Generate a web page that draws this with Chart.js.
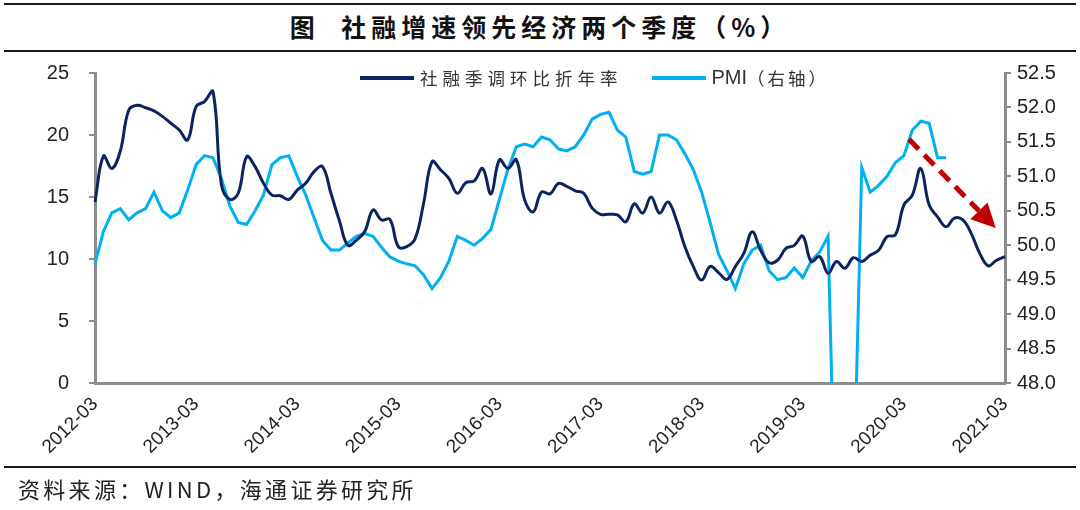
<!DOCTYPE html>
<html>
<head>
<meta charset="utf-8">
<script src="https://cdn.jsdelivr.net/npm/chart.js@4.4.1/dist/chart.umd.min.js"></script>
<style>
  body { margin: 0; background: #fff; }
  #wrap { position: relative; width: 1080px; height: 510px; overflow: hidden; font-family: "Liberation Sans", "Noto Sans CJK SC", sans-serif; }
  .rule { position: absolute; left: 4px; width: 1072px; height: 2px; background: #1a1a1a; }
  #title { position: absolute; top: 8px; left: 0; width: 1080px; text-align: center; font-family: "Noto Sans CJK SC", sans-serif; font-weight: bold; font-size: 25px; letter-spacing: 5px; color: #111; line-height: 36px; }
  #legend { position: absolute; top: 65px; left: 360px; display: flex; align-items: center; font-size: 17px; color: #333; }
  #legend .sample { width: 54px; height: 4px; margin-right: 6px; }
  #legend .lbl { font-family: "Noto Sans CJK SC", sans-serif; font-size: 17.5px; letter-spacing: 5px; margin-right: 29px; }
  #legend .pmi { font-family: "Liberation Sans", sans-serif; font-size: 20px; }
  #legend .axisnote { font-family: "Noto Sans CJK SC", sans-serif; font-size: 17.5px; letter-spacing: 3px; }
  #source { position: absolute; top: 472px; left: 18px; font-family: "Noto Sans CJK SC", sans-serif; font-size: 22px; letter-spacing: 3.3px; color: #222; }
  canvas { position: absolute; left: 0; top: 0; }
</style>
</head>
<body>
<div id="wrap">
  <div class="rule" style="top:3px"></div>
  <div id="title">图&nbsp;&nbsp;社融增速领先经济两个季度（%）</div>
  <div class="rule" style="top:50px"></div>
  <canvas id="chart" width="1080" height="510"></canvas>
  <div id="legend">
    <div class="sample" style="background:#0b2461"></div><span class="lbl">社融季调环比折年率</span>
    <div class="sample" style="background:#00b0f0"></div><span class="pmi">PMI</span><span class="axisnote">（右轴）</span>
  </div>
  <div class="rule" style="top:466px"></div>
  <div id="source">资料来源：WIND，海通证券研究所</div>
</div>
<script>
// ===== Data =====
const firstMonth = [2012, 3];
const monthCount = 109;
const yearTicks = ['2012-03', '2013-03', '2014-03', '2015-03', '2016-03',
                   '2017-03', '2018-03', '2019-03', '2020-03', '2021-03'];

// 社融季调环比折年率 (left axis, %)
const tsfGrowth = [
  14.6, 18.3, 17.3, 18.7, 22.0, 22.4, 22.2, 21.95, 21.5, 20.95, 20.4, 19.6,
  22.3, 22.7, 23.5, 16.0, 14.8, 15.3, 18.25, 17.45, 16.1, 15.15, 15.1, 14.8,
  15.55, 16.1, 17.05, 17.45, 15.3, 13.1, 11.1, 11.5, 12.2, 13.95, 13.15, 13.2,
  11.0, 11.0, 11.65, 14.5, 17.85, 17.2, 16.5, 15.3, 16.15, 16.3, 17.3, 15.25,
  18.0, 17.3, 18.0, 14.75, 13.8, 15.4, 15.25, 16.1, 15.85, 15.5, 15.3, 14.1,
  13.6, 13.6, 13.55, 13.0, 14.45, 13.7, 15.0, 13.7, 14.6, 13.15, 11.0, 9.4,
  8.3, 9.4, 8.9, 8.35, 9.4, 10.45, 12.2, 10.7, 9.7, 9.9, 10.85, 11.1,
  11.85, 9.8, 10.2, 8.85, 9.8, 9.25, 10.1, 9.8, 10.3, 10.7, 11.8, 11.95,
  14.35, 15.15, 17.3, 14.35, 13.4, 12.6, 13.3, 13.15, 12.05, 10.45, 9.45, 9.9,
  10.2
];

// PMI (right axis), ends before the last 7 months
const pmi = [
  49.73, 50.2, 50.47, 50.53, 50.37, 50.47, 50.53, 50.77, 50.5, 50.4, 50.47, 50.8,
  51.17, 51.3, 51.27, 50.97, 50.57, 50.33, 50.3, 50.5, 50.73, 51.17, 51.27, 51.3,
  51.0, 50.73, 50.4, 50.07, 49.93, 49.93, 50.03, 50.13, 50.17, 50.13, 49.97, 49.83,
  49.77, 49.73, 49.7, 49.57, 49.37, 49.53, 49.77, 50.13, 50.07, 50.0, 50.1, 50.23,
  50.67, 51.1, 51.43, 51.47, 51.43, 51.57, 51.53, 51.4, 51.37, 51.43, 51.6, 51.83,
  51.9, 51.93, 51.67, 51.57, 51.07, 51.03, 51.07, 51.6, 51.6, 51.53, 51.33, 51.1,
  50.77, 50.33, 49.87, 49.63, 49.37, 49.73, 49.93, 50.0, 49.63, 49.5, 49.53, 49.67,
  49.53, 49.77, 49.9, 50.13, 45.3, 45.9, 46.17, 51.13, 50.77, 50.87, 51.0, 51.2,
  51.3, 51.67, 51.8, 51.77, 51.27, 51.27
];

// red dashed trend arrow, in data units (month index, left-axis value)
const arrowFrom = [96.6, 19.65];
const arrowTo = [106.9, 12.5];

// ===== Chart =====
const colors = {
  navy: '#0b2461',
  sky: '#00b0f0',
  axis: '#8c8c8c',
  text: '#222222',
  arrow: '#c00000'
};

const months = [];
for (let i = 0; i < monthCount; i++) {
  const m = firstMonth[1] - 1 + i;
  const y = firstMonth[0] + Math.floor(m / 12);
  months.push(`${y}-${String(m % 12 + 1).padStart(2, '0')}`);
}

const arrowPlugin = {
  id: 'trendArrow',
  afterDatasetsDraw(chart) {
    const { ctx, scales } = chart;
    const x1 = scales.x.getPixelForValue(arrowFrom[0]);
    const y1 = scales.y.getPixelForValue(arrowFrom[1]);
    const x2 = scales.x.getPixelForValue(arrowTo[0]);
    const y2 = scales.y.getPixelForValue(arrowTo[1]);
    const ang = Math.atan2(y2 - y1, x2 - x1);
    const head = 24, half = 12;
    const bx = x2 - head * Math.cos(ang), by = y2 - head * Math.sin(ang);
    ctx.save();
    ctx.strokeStyle = colors.arrow;
    ctx.fillStyle = colors.arrow;
    ctx.lineWidth = 5;
    ctx.setLineDash([14, 8]);
    ctx.beginPath();
    ctx.moveTo(x1, y1);
    ctx.lineTo(bx, by);
    ctx.stroke();
    ctx.setLineDash([]);
    ctx.beginPath();
    ctx.moveTo(x2, y2);
    ctx.lineTo(bx + half * Math.sin(ang), by - half * Math.cos(ang));
    ctx.lineTo(bx - half * Math.sin(ang), by + half * Math.cos(ang));
    ctx.closePath();
    ctx.fill();
    ctx.restore();
  }
};

const tickFont = { family: "'Liberation Sans', Arial, sans-serif", size: 20 };

new Chart(document.getElementById('chart'), {
  type: 'line',
  data: {
    labels: months,
    datasets: [
      {
        label: '社融季调环比折年率',
        data: tsfGrowth,
        yAxisID: 'y',
        borderColor: colors.navy,
        borderWidth: 3,
        pointRadius: 0,
        tension: 0.4
      },
      {
        label: 'PMI（右轴）',
        data: pmi,
        yAxisID: 'y1',
        borderColor: colors.sky,
        borderWidth: 3,
        pointRadius: 0,
        tension: 0
      }
    ]
  },
  options: {
    responsive: false,
    animation: false,
    devicePixelRatio: 1,
    layout: { padding: { top: 73, bottom: 57, left: 0, right: 0 } },
    plugins: { legend: { display: false }, tooltip: { enabled: false } },
    scales: {
      x: {
        offset: false,
        grid: { display: false },
        border: { display: true, color: colors.axis, width: 3 },
        ticks: {
          autoSkip: false,
          maxRotation: 45,
          minRotation: 45,
          padding: 2,
          color: colors.text,
          font: { family: tickFont.family, size: 19 },
          callback: (v, i) => yearTicks.includes(months[i]) ? months[i] : null
        },
        afterFit: s => { s.height = 70; }
      },
      y: {
        position: 'left',
        min: 0,
        max: 25,
        ticks: { stepSize: 5, color: colors.text, font: tickFont, padding: 20 },
        grid: { drawOnChartArea: false, drawTicks: true, tickLength: 6, color: colors.axis, lineWidth: 2 },
        border: { display: true, color: colors.axis, width: 3 },
        afterFit: s => { s.width = 95; }
      },
      y1: {
        position: 'right',
        min: 48,
        max: 52.5,
        ticks: { stepSize: 0.5, color: colors.text, font: tickFont, padding: 6, callback: v => v.toFixed(1) },
        grid: { drawOnChartArea: false, drawTicks: true, tickLength: 6, color: colors.axis, lineWidth: 2 },
        border: { display: true, color: colors.axis, width: 3 },
        afterFit: s => { s.width = 75; }
      }
    }
  },
  plugins: [arrowPlugin]
});
</script>
</body>
</html>
